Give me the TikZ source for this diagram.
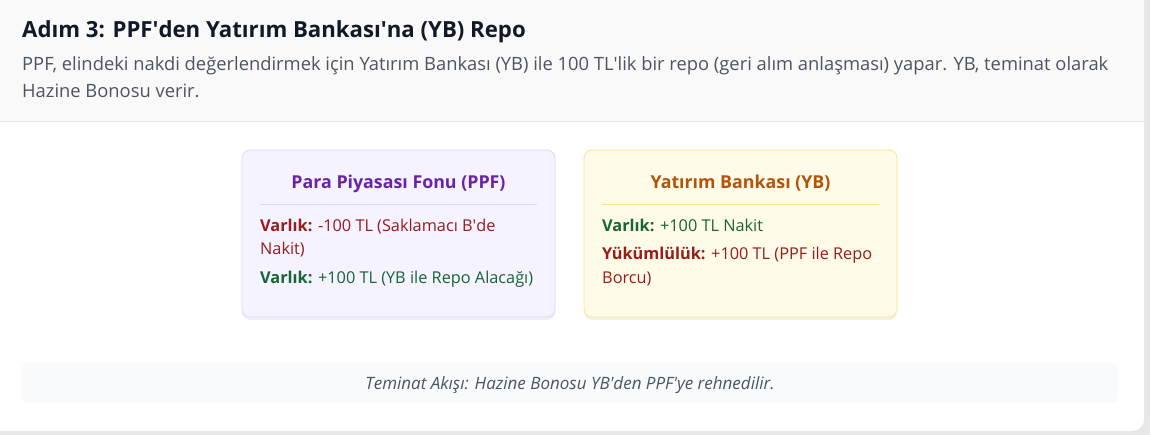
\documentclass[tikz,border=0pt]{standalone}
\usepackage{fontspec}
\setmainfont{Open Sans}
\newcommand{\ap}{\textquotesingle}
\definecolor{pagebg}{HTML}{E7E7EA}
\definecolor{headbg}{HTML}{F9F9F9}
\definecolor{linegray}{HTML}{E5E7EB}
\definecolor{titlec}{HTML}{111827}
\definecolor{descc}{HTML}{4B5563}
\definecolor{ppffill}{HTML}{F5F3FF}
\definecolor{ppfdraw}{HTML}{DDD6FE}
\definecolor{ppftitle}{HTML}{6B21A8}
\definecolor{ybfill}{HTML}{FEFCE8}
\definecolor{ybdraw}{HTML}{FDE68A}
\definecolor{ybtitle}{HTML}{B45309}
\definecolor{redc}{HTML}{991B1B}
\definecolor{greenc}{HTML}{166534}
\definecolor{notefill}{HTML}{F8FAFC}
\tikzset{
  entbox/.style={rounded corners=8pt, line width=0.8pt, minimum width=313pt, minimum height=167pt, inner sep=0pt},
  enttitle/.style={anchor=base, font=\fontsize{17.8}{21}\selectfont\bfseries, inner sep=0pt},
  entline/.style={anchor=base west, font=\fontsize{16.3}{19}\selectfont, inner sep=0pt},
  desc/.style={anchor=base west, font=\fontsize{18.35}{22}\selectfont, text=descc, inner sep=0pt},
}
\begin{document}
\begin{tikzpicture}[x=1pt,y=-1pt]
\useasboundingbox (0,0) rectangle (1150,435);
\fill[pagebg] (0,0) rectangle (1150,435);
\begin{scope}
\clip (0,0) rectangle (1150,435);
\fill[white, rounded corners=12pt] (-20,-20) rectangle (1144,431);
\begin{scope}
\clip[rounded corners=12pt] (-20,-20) rectangle (1144,431);
\fill[headbg] (-20,-20) rectangle (1144,121);
\draw[linegray, line width=1pt] (-20,121.5) -- (1144,121.5);
\end{scope}
\end{scope}

\node[anchor=base west, font=\fontsize{22.2}{26}\selectfont\bfseries, text=titlec, inner sep=0pt] (title) at (22,38) {Adım 3: PPF\ap den Yatırım Bankası\ap na (YB) Repo};
\node[desc] (desc1) at (22,71) {PPF, elindeki nakdi değerlendirmek için Yatırım Bankası (YB) ile 100 TL\ap lik bir repo (geri alım anlaşması) yapar. YB, teminat olarak};
\node[desc] (desc2) at (22,98) {Hazine Bonosu verir.};

% shadows
\fill[black!6, rounded corners=8pt] (242,152) rectangle (555,320);
\fill[black!6, rounded corners=8pt] (584,152) rectangle (897,320);

\node[entbox, fill=ppffill, draw=ppfdraw] (ppf) at (398.5,233.5) {};
\node[enttitle, text=ppftitle] (ppft) at (398.5,189) {Para Piyasası Fonu (PPF)};
\draw[ppfdraw, line width=0.8pt] (260,204) -- (537,204);
\node[entline, text=redc] (ppf1) at (260,231.5) {\textbf{Varlık:} -100 TL (Saklamacı B\ap de};
\node[entline, text=redc] (ppf2) at (260,254.5) {Nakit)};
\node[entline, text=greenc] (ppf3) at (260,283.5) {\textbf{Varlık:} +100 TL (YB ile Repo Alacağı)};

\node[entbox, fill=ybfill, draw=ybdraw] (yb) at (740.5,233.5) {};
\node[enttitle, text=ybtitle] (ybt) at (740.5,189) {Yatırım Bankası (YB)};
\draw[ybdraw, line width=0.8pt] (602,204) -- (879,204);
\node[entline, text=greenc] (yb1) at (602,231.5) {\textbf{Varlık:} +100 TL Nakit};
\node[entline, text=redc] (yb2) at (602,259.5) {\textbf{Yükümlülük:} +100 TL (PPF ile Repo};
\node[entline, text=redc] (yb3) at (602,283.5) {Borcu)};

\node[fill=notefill, rounded corners=6pt, minimum width=1096pt, minimum height=40pt, inner sep=0pt] (note) at (570,383) {};
\node[anchor=base, font=\fontsize{17}{20}\selectfont\itshape, text=descc, inner sep=0pt] (notet) at (570,389) {Teminat Akışı: Hazine Bonosu YB\ap den PPF\ap ye rehnedilir.};
\end{tikzpicture}
\end{document}
